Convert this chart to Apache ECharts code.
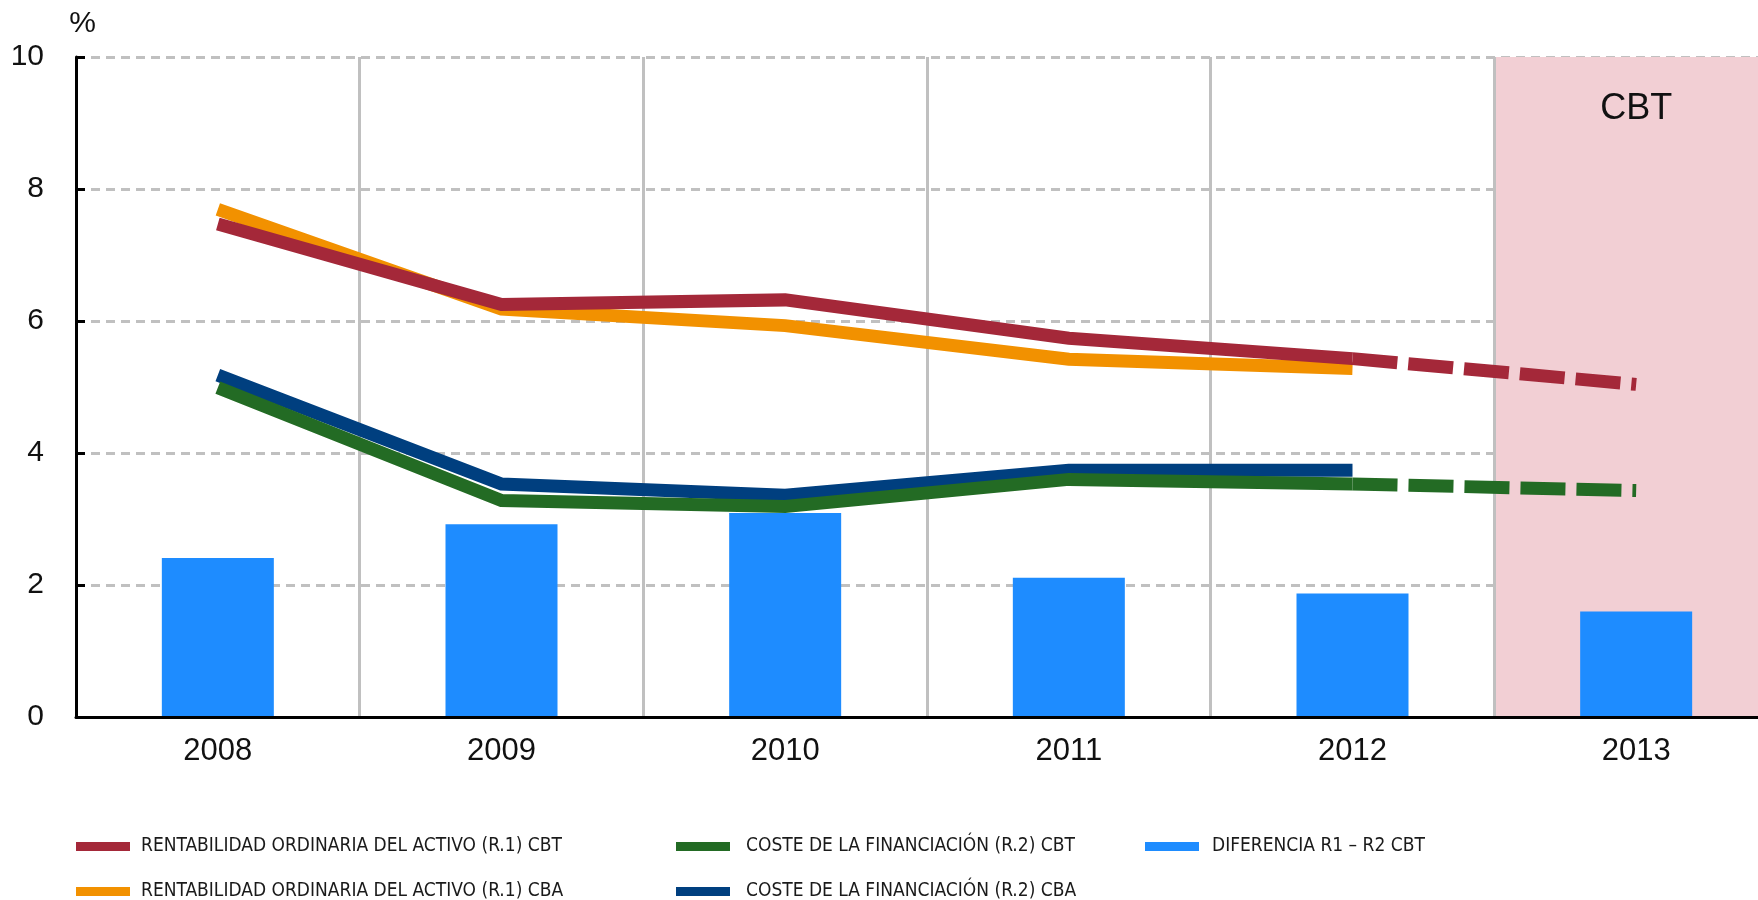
<!DOCTYPE html>
<html>
<head>
<meta charset="utf-8">
<script src="https://cdn.jsdelivr.net/npm/echarts@6/dist/echarts.min.js"></script>
<style>
  html, body { margin: 0; padding: 0; background: #fff; overflow: hidden; }
  #main { width: 1778px; height: 900px; }
</style>
</head>
<body>
<div id="main"></div>
<script>
// datos
var years = ['2008', '2009', '2010', '2011', '2012', '2013'];
var r1Cbt = [7.47, 6.25, 6.32, 5.74, 5.43, 5.04];
var r1Cba = [7.69, 6.18, 5.93, 5.42, 5.28];
var r2Cbt = [4.99, 3.28, 3.19, 3.60, 3.53, 3.43];
var r2Cba = [5.18, 3.53, 3.36, 3.74, 3.74];
var diff = [2.41, 2.92, 3.09, 2.11, 1.87, 1.60];
var shade = ['-', '-', '-', '-', '-', 10];

var nR1Cbt = 'RENTABILIDAD ORDINARIA DEL ACTIVO (R.1) CBT';
var nR1Cba = 'RENTABILIDAD ORDINARIA DEL ACTIVO (R.1) CBA';
var nR2Cbt = 'COSTE DE LA FINANCIACIÓN (R.2) CBT';
var nR2Cba = 'COSTE DE LA FINANCIACIÓN (R.2) CBA';
var nDiff = 'DIFERENCIA R1 – R2 CBT';

var font = "'Liberation Sans', Arial, sans-serif";
var narrow = "'Liberation Sans Narrow', 'DejaVu Sans Condensed', sans-serif";

// tramo punteado 2012-2013
function lastSeg(arr) {
    return arr.map(function (v, i) { return i >= 4 ? v : '-'; });
}

var myChart = echarts.init(document.getElementById('main'));

function legendItem(left, top, name, pad) {
    return {
        left: left,
        top: top,
        icon: 'rect',
        itemWidth: 54,
        itemHeight: 9,
        selectedMode: false,
        data: [name],
        textStyle: {
            fontFamily: narrow,
            fontSize: 19,
            lineHeight: 19,
            color: '#1a1a1a',
            padding: [0, 0, 0, pad]
        }
    };
}

function line(name, data, color, z, dashed) {
    return {
        type: 'line',
        name: name,
        data: data,
        symbol: 'none',
        silent: true,
        z: z,
        color: color,
        lineStyle: {
            color: color,
            width: 13,
            cap: 'butt',
            join: 'miter',
            type: dashed ? [45, 11] : 'solid'
        }
    };
}

option = {
    animation: false,
    grid: { left: 76, right: 0, top: 57, bottom: 183 },
    legend: [
        legendItem(71, 832, nR1Cbt, 6),
        legendItem(71, 877, nR1Cba, 6),
        legendItem(671, 832, nR2Cbt, 11),
        legendItem(671, 877, nR2Cba, 11),
        legendItem(1140, 832, nDiff, 8)
    ],
    xAxis: [
        {
            type: 'category',
            data: years,
            boundaryGap: true,
            axisLine: { lineStyle: { color: '#000', width: 3 } },
            axisTick: { inside: true, length: 10, lineStyle: { color: '#000', width: 3 } },
            axisLabel: { fontFamily: font, fontSize: 31, color: '#111', margin: 19 },
            splitLine: {
                show: true,
                interval: function (i) { return i > 0; },
                lineStyle: { color: '#c0c0c0', width: 3 }
            },
            z: 3
        },
        {
            type: 'category',
            data: years,
            show: false
        }
    ],
    yAxis: {
        type: 'value',
        min: 0,
        max: 10,
        interval: 2,
        name: '%',
        nameLocation: 'end',
        nameGap: 18,
        nameTextStyle: { fontFamily: font, fontSize: 30, color: '#111', align: 'center', padding: [0, 0, 0, 13] },
        axisLine: { show: true, lineStyle: { color: '#000', width: 3 } },
        axisTick: { show: true, inside: true, length: 9, lineStyle: { color: '#000', width: 3 } },
        axisLabel: { fontFamily: font, fontSize: 30, color: '#111', margin: 32 },
        splitLine: { lineStyle: { color: '#c0c0c0', width: 3, type: [9, 6] } }
    },
    series: [
        {
            type: 'bar',
            xAxisIndex: 1,
            data: shade,
            barWidth: '100%',
            silent: true,
            z: 1,
            itemStyle: { color: '#f2cfd4' },
            label: {
                show: true,
                position: 'insideTop',
                distance: 34,
                formatter: 'CBT',
                fontFamily: font,
                fontSize: 36,
                color: '#111'
            }
        },
        {
            name: nDiff,
            type: 'bar',
            data: diff,
            barWidth: 112,
            silent: true,
            z: 2,
            color: '#1e8cff',
            itemStyle: { color: '#1e8cff' }
        },
        line(nR1Cba, r1Cba, '#f29100', 4),
        line(nR2Cba, r2Cba, '#003f7f', 4),
        line(nR1Cbt, r1Cbt.slice(0, 5), '#a42839', 5),
        line(nR2Cbt, r2Cbt.slice(0, 5), '#236b24', 5),
        line('r1 cbt 2013', lastSeg(r1Cbt), '#a42839', 5, true),
        line('r2 cbt 2013', lastSeg(r2Cbt), '#236b24', 5, true)
    ]
};

myChart.setOption(option);
</script>
</body>
</html>
